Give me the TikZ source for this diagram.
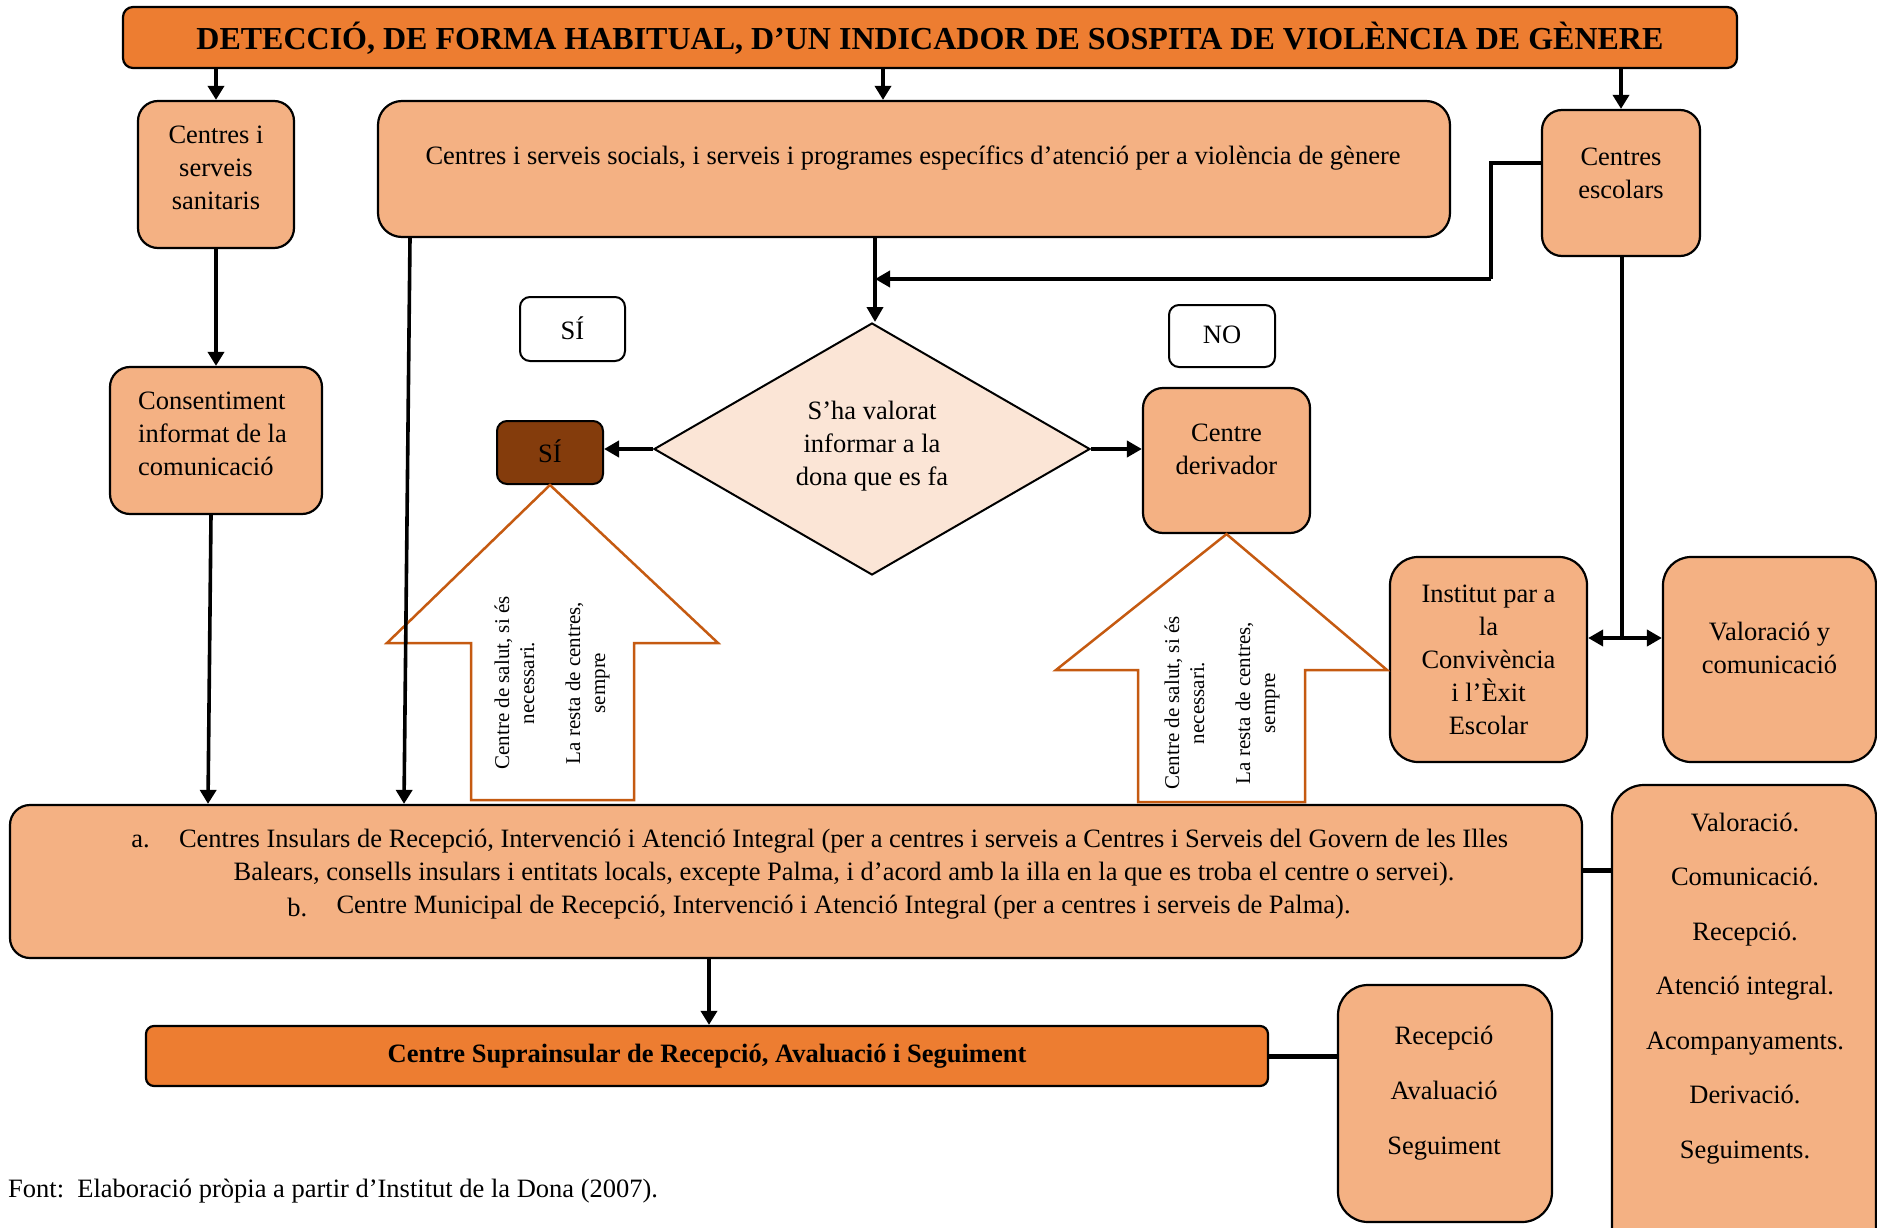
\documentclass[tikz,border=0pt]{standalone}
\usepackage{fontspec}
\setmainfont{Liberation Serif}
\usetikzlibrary{shapes.geometric, arrows.meta, calc}
\definecolor{boxor}{HTML}{F4B183}
\definecolor{titleor}{HTML}{ED7D31}
\definecolor{brownbox}{HTML}{843C0C}
\definecolor{diafill}{HTML}{FBE5D6}
\definecolor{arrowline}{HTML}{C55A11}
\begin{document}
\begin{tikzpicture}[x=1pt,y=-1pt,
  box/.style={draw=black, line width=2.2pt, fill=boxor, rounded corners=#1, inner sep=0pt},
  box/.default=20pt,
  txt/.style={font=\fontsize{26.5}{33}\selectfont, align=center, inner sep=0pt},
  smalltxt/.style={font=\fontsize{21}{25}\selectfont, align=center, inner sep=0pt},
  arr/.style={line width=3.6pt, -{Triangle[length=14pt,width=16pt]}},
  tharr/.style={line width=3.8pt, -{Triangle[length=15pt,width=16pt]}},
  thline/.style={line width=3.6pt},
  fatline/.style={line width=5pt},
  uparr/.style={draw=arrowline, line width=2.5pt, fill=white, line join=miter}
]
\useasboundingbox (0,0) rectangle (1877,1228);
\clip (0,0) rectangle (1877,1228);

% ---------- boxes ----------
\node[box=10pt, fill=titleor, minimum width=1614pt, minimum height=61pt] (title) at (930,37.5) {};
\node[txt, font=\fontsize{32}{36}\selectfont\bfseries] at (930,38) {DETECCIÓ, DE FORMA HABITUAL, D’UN INDICADOR DE SOSPITA DE VIOLÈNCIA DE GÈNERE};

\node[box, minimum width=156pt, minimum height=147pt] (san) at (216,174.5) {};
\node[txt] at (216,168) {Centres i\\serveis\\sanitaris};

\node[box=24pt, minimum width=1072pt, minimum height=136pt] (soc) at (914,169) {};
\node[txt] at (913,158) {Centres i serveis socials, i serveis i programes específics d’atenció per a violència de gènere};

\node[box, minimum width=158pt, minimum height=146pt] (esc) at (1621,183) {};
\node[txt] at (1621,173) {Centres\\escolars};

\node[box, minimum width=212pt, minimum height=147pt] (cons) at (216,440.5) {};
\node[txt, align=left, anchor=west] at (138,434) {Consentiment\\informat de la\\comunicació};

\node[box=10pt, fill=white, line width=2pt, minimum width=105pt, minimum height=64pt] (si1) at (572.5,329) {};
\node[txt] at (572.5,328) {SÍ};

\node[box=10pt, fill=brownbox, line width=2pt, minimum width=106pt, minimum height=63pt] (si2) at (550,452.5) {};
\node[txt] at (550,451) {SÍ};

\node[draw=black, line width=2pt, fill=diafill, diamond, minimum width=436pt, minimum height=252pt, inner sep=0pt] (dia) at (872,449) {};
\node[txt] at (872,446) {S’ha valorat\\informar a la\\dona que es fa};

\node[box=10pt, fill=white, line width=2pt, minimum width=106pt, minimum height=62pt] (no) at (1222,336) {};
\node[txt] at (1222,335) {NO};

\node[box, minimum width=167pt, minimum height=145pt] (der) at (1226.5,460.5) {};
\node[txt] at (1226.5,449) {Centre\\derivador};

\node[box=28pt, minimum width=197pt, minimum height=205pt] (inst) at (1488.5,659.5) {};
\node[txt] at (1488.5,660) {Institut par a\\la\\Convivència\\i l’Èxit\\Escolar};

\node[box=28pt, minimum width=213pt, minimum height=205pt] (valc) at (1769.5,659.5) {};
\node[txt] at (1769.5,648) {Valoració y\\comunicació};

% ---------- up arrows ----------
\draw[uparr] (si2.south) -- (718,643) -- (634,643) -- (634,800) -- (471,800) -- (471,643) -- (387,643) -- cycle;
\node[smalltxt, rotate=90] at (552,683) {Centre de salut, si és\\necessari.\\[21pt]La resta de centres,\\sempre};
\draw[uparr] (der.south) -- (1387,670) -- (1305,670) -- (1305,802) -- (1138,802) -- (1138,670) -- (1056,670) -- cycle;
\node[smalltxt, rotate=90] at (1222,703) {Centre de salut, si és\\necessari.\\[21pt]La resta de centres,\\sempre};

% ---------- lower boxes ----------
\node[box, minimum width=1572pt, minimum height=153pt] (main) at (796,881.5) {};
\node[txt, anchor=center] (la) at (843.5,841) {Centres Insulars de Recepció, Intervenció i Atenció Integral (per a centres i serveis a Centres i Serveis del Govern de les Illes};
\node[txt, anchor=east] at ([xshift=-29pt]la.west) {a.};
\node[txt] at (844,874) {Balears, consells insulars i entitats locals, excepte Palma, i d’acord amb la illa en la que es troba el centre o servei).};
\node[txt] (lb) at (843.5,907) {Centre Municipal de Recepció, Intervenció i Atenció Integral (per a centres i serveis de Palma).};
\node[txt, anchor=east] at ([xshift=-29pt]lb.west) {b.};

\node[box=32pt, minimum width=264pt, minimum height=500pt] (rcol) at (1744,1035) {};
\node[txt, font=\fontsize{26.5}{54.5}\selectfont] at (1745,988.5) {Valoració.\\Comunicació.\\Recepció.\\Atenció integral.\\Acompanyaments.\\Derivació.\\Seguiments.};

\node[box=8pt, fill=titleor, minimum width=1122pt, minimum height=60pt] (supra) at (707,1056) {};
\node[txt, font=\fontsize{26.5}{33}\selectfont\bfseries] at (707,1056) {Centre Suprainsular de Recepció, Avaluació i Seguiment};

\node[box=30pt, minimum width=214pt, minimum height=237pt] (rec) at (1445,1103.5) {};
\node[txt, font=\fontsize{26.5}{55}\selectfont] at (1444,1093) {Recepció\\Avaluació\\Seguiment};

\node[txt, anchor=west] (font) at (8,1191) {Font:\ \ Elaboració pròpia a partir d’Institut de la Dona (2007).};

% ---------- helper coordinates ----------
\coordinate (xa) at (883,0);
\coordinate (xcs) at (211,0);
\coordinate (xcm) at (208,0);
\coordinate (xss) at (410,0);
\coordinate (xsm) at (404,0);
\coordinate (xsd) at (875,0);
\coordinate (ye) at (0,163);
\coordinate (bend1) at (1491,163);
\coordinate (bend2) at (1491,279);
\coordinate (xe) at (1622,0);
\coordinate (junc) at (1622,638);
\coordinate (xm) at (709,0);
\coordinate (yr) at (0,870);

% ---------- connectors ----------
\draw[arr] (title.south -| san.north) -- (san.north);
\draw[arr] (title.south -| xa) -- (soc.north -| xa);
\draw[arr] (title.south -| esc.north) -- (esc.north);
\draw[arr] (san.south) -- (cons.north);
\draw[arr] (cons.south -| xcs) -- (main.north -| xcm);
\draw[arr] (soc.south -| xss) -- (main.north -| xsm);
\draw[tharr] (soc.south -| xsd) -- (dia.north -| xsd);
\draw[thline] (esc.west |- ye) -- (bend1) -- (bend2);
\draw[tharr] (bend2) -- (bend2 -| xsd);
\draw[tharr] (dia.west) -- (dia.west -| si2.east);
\draw[tharr] (dia.east) -- (dia.east -| der.west);
\draw[thline] (esc.south -| xe) -- (junc);
\draw[tharr] (junc) -- (junc -| inst.east);
\draw[tharr] (junc) -- (junc -| valc.west);
\draw[fatline] (main.east |- yr) -- (rcol.west |- yr);
\draw[arr] (main.south -| xm) -- (supra.north -| xm);
\draw[fatline] (supra.east) -- (supra.east -| rec.west);
\end{tikzpicture}
\end{document}
